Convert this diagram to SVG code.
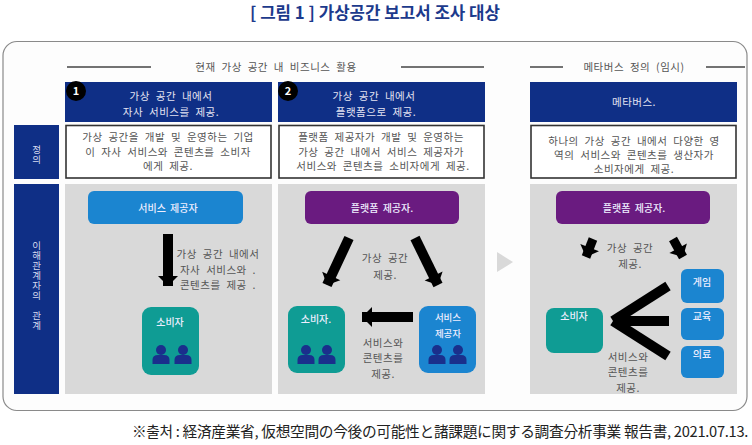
<svg xmlns="http://www.w3.org/2000/svg" width="752" height="445" viewBox="0 0 752 445">
<style>
text{font-family:"Noto Sans CJK KR","Noto Sans",sans-serif;text-anchor:middle}
.t{font-size:10.500px;fill:#555;word-spacing:3px;letter-spacing:.5px}
.h{font-size:10.500px;fill:#e4e4f2;word-spacing:3px;letter-spacing:.5px}
.n{font-size:10px;fill:#eef;font-weight:500;word-spacing:2px}
.v{font-size:9.500px;fill:#d8dcf0;writing-mode:vertical-rl;text-orientation:upright;letter-spacing:.5px}
.navy{fill:#0f2f86}.grey{fill:#d9d9d9}.box{fill:#fff;stroke:#333;stroke-width:1.600}
.blue{fill:#1b85d0}.teal{fill:#0f9c94}.purple{fill:#6a1b80}
.rule{stroke:#444;stroke-width:1.600}
.ar{fill:none;stroke:#000;stroke-width:10}
.ar2{fill:none;stroke:#000;stroke-width:9}
.p{fill:#1a2f8c}
</style>
<defs>
<marker id="ah" markerUnits="userSpaceOnUse" markerWidth="22" markerHeight="22" refX="11" refY="11" orient="auto"><path d="M1 1L11 11L1 21Z" fill="#000"/></marker>
<g id="person"><circle cx="0" cy="-6" r="5"/><path d="M-8.500 8V4Q-8.500-1-3-1H3Q8.500-1 8.500 4V8Z"/></g>
</defs>
<rect width="752" height="445" fill="#fff"/>
<text x="375" y="19" style="font-size:16.800px;font-weight:700;fill:#1c3a8c">[ 그림 1 ] 가상공간 보고서 조사 대상</text>
<rect id="frame" x="3" y="41.500" width="744" height="369" rx="14" fill="#fdfdfd" stroke="#8a8a8a" stroke-width="1.200"/>
<g id="section-headers">
<line class="rule" x1="67" y1="67" x2="151" y2="67"/><line class="rule" x1="401" y1="67" x2="484" y2="67"/>
<line class="rule" x1="530" y1="67" x2="563" y2="67"/><line class="rule" x1="706" y1="67" x2="745" y2="67"/>
<text class="t" x="276" y="71">현재 가상 공간 내 비즈니스 활용</text>
<text class="t" x="634" y="71">메타버스 정의 (임시)</text>
</g>
<g id="row-definition"><rect class="navy" x="14" y="125" width="45" height="54"/><text class="v" x="36.500" y="155">정의</text></g>
<g id="row-relations"><rect class="navy" x="14" y="184" width="45" height="210"/><text class="v" x="36.500" y="286">이해관계자의 관계</text></g>
<g id="column-1">
<rect class="navy" x="65" y="82" width="207" height="40"/>
<circle cx="76" cy="91" r="10" fill="#000"/><text x="76" y="95" style="font-size:11px;font-weight:700;fill:#fff">1</text>
<text class="h" x="171" y="100">가상 공간 내에서</text><text class="h" x="171" y="116">자사 서비스를 제공.</text>
<rect class="box" x="66" y="125.500" width="205" height="52.500"/>
<text class="t" x="168" y="141">가상 공간을 개발 및 운영하는 기업</text>
<text class="t" x="168" y="156">이 자사 서비스와 콘텐츠를 소비자</text>
<text class="t" x="168" y="170">에게 제공.</text>
<rect class="grey" x="65" y="184" width="207" height="210"/>
</g>
<g id="column-2">
<rect class="navy" x="278" y="82" width="207" height="40"/>
<circle cx="288" cy="91" r="10" fill="#000"/><text x="288" y="95" style="font-size:11px;font-weight:700;fill:#fff">2</text>
<text class="h" x="374" y="100">가상 공간 내에서</text><text class="h" x="376" y="116">플랫폼으로 제공.</text>
<rect class="box" x="279" y="125.500" width="205" height="52.500"/>
<text class="t" x="381" y="141">플랫폼 제공자가 개발 및 운영하는</text>
<text class="t" x="381" y="156">가상 공간 내에서 서비스 제공자가</text>
<text class="t" x="383" y="170">서비스와 콘텐츠를 소비자에게 제공.</text>
<rect class="grey" x="278" y="184" width="207" height="210"/>
</g>
<g id="column-3">
<rect class="navy" x="530" y="82" width="207" height="40"/>
<text class="h" x="634" y="106">메타버스.</text>
<rect class="box" x="531" y="125.500" width="205" height="52.500"/>
<text class="t" x="634" y="145">하나의 가상 공간 내에서 다양한 영</text>
<text class="t" x="634" y="159">역의 서비스와 콘텐츠를 생산자가</text>
<text class="t" x="634" y="173">소비자에게 제공.</text>
<rect class="grey" x="530" y="184" width="207" height="210"/>
</g>
<polygon id="next-arrow" points="497,252 513,262 497,272" fill="#d9d9d9"/>
<g id="node-service-1"><rect class="blue" x="88" y="191" width="155" height="33" rx="6"/><text class="n" x="168" y="212">서비스 제공자</text></g>
<g id="node-consumer-1"><rect class="teal" x="142" y="307" width="57" height="68" rx="9"/><text class="n" x="170" y="326">소비자</text><use href="#person" x="161" y="356" class="p"/><use href="#person" x="183" y="356" class="p"/></g>
<g id="node-platform-2"><rect class="purple" x="305" y="191" width="154" height="33" rx="6"/><text class="n" x="382" y="212">플랫폼 제공자.</text></g>
<g id="node-consumer-2"><rect class="teal" x="288" y="306" width="57" height="67" rx="9"/><text class="n" x="316" y="323">소비자.</text><use href="#person" x="306" y="356" class="p"/><use href="#person" x="327" y="356" class="p"/></g>
<g id="node-service-2"><rect class="blue" x="419" y="306" width="57" height="67" rx="9"/><text class="n" x="448" y="321" style="font-size:9.500px">서비스</text><text class="n" x="448" y="337" style="font-size:9.500px">제공자</text><use href="#person" x="437" y="356" class="p"/><use href="#person" x="458" y="356" class="p"/></g>
<g id="node-platform-3"><rect class="purple" x="556" y="191" width="154" height="33" rx="6"/><text class="n" x="634" y="212">플랫폼 제공자.</text></g>
<g id="node-consumer-3"><rect class="teal" x="546" y="308" width="57" height="45" rx="8"/><text class="n" x="574" y="320">소비자</text></g>
<g id="node-game"><rect class="blue" x="681" y="269" width="43" height="34" rx="6"/><text class="n" x="702" y="286">게임</text></g>
<g id="node-edu"><rect class="blue" x="681" y="308" width="43" height="32" rx="6"/><text class="n" x="702" y="320">교육</text></g>
<g id="node-med"><rect class="blue" x="681" y="346" width="43" height="32" rx="6"/><text class="n" x="702" y="358">의료</text></g>
<g id="connectors">
<line class="ar" x1="168" y1="234" x2="168" y2="286" marker-end="url(#ah)"/>
<line class="ar" x1="349" y1="238" x2="327" y2="285" marker-end="url(#ah)"/>
<line class="ar" x1="415" y1="238" x2="438" y2="285" marker-end="url(#ah)"/>
<line class="ar" x1="413" y1="317" x2="362" y2="317" marker-end="url(#ah)"/>
<line class="ar2" x1="593" y1="239" x2="586" y2="257" marker-end="url(#ah)"/>
<line class="ar2" x1="673" y1="239" x2="683" y2="257" marker-end="url(#ah)"/>
<line class="ar" x1="669" y1="321" x2="620" y2="321" marker-end="url(#ah)"/>
<line class="ar" x1="668" y1="286" x2="613" y2="321"/>
<line class="ar" x1="668" y1="356" x2="613" y2="321"/>
</g>
<g id="labels">
<text class="t" x="218" y="258">가상 공간 내에서</text>
<text class="t" x="218" y="274">자사 서비스와 .</text>
<text class="t" x="218" y="289">콘텐츠를 제공 .</text>
<text class="t" x="385" y="262">가상 공간</text><text class="t" x="385" y="279">제공.</text>
<text class="t" x="383" y="347">서비스와</text><text class="t" x="383" y="362">콘텐츠를</text><text class="t" x="383" y="378">제공.</text>
<text class="t" x="630" y="252">가상 공간</text><text class="t" x="630" y="268">제공.</text>
<text class="t" x="628" y="361">서비스와</text><text class="t" x="628" y="376">콘텐츠를</text><text class="t" x="628" y="392">제공.</text>
</g>
<text x="440" y="437" style="font-size:14.700px;fill:#222;letter-spacing:-.3px">※출처 : 経済産業省, 仮想空間の今後の可能性と諸課題に関する調査分析事業 報告書, 2021.07.13.</text>
</svg>
